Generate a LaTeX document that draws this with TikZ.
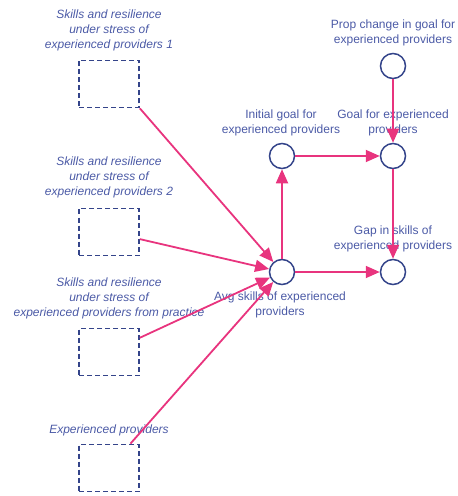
\documentclass[tikz,border=0pt]{standalone}
\usepackage{fontspec}
\setmainfont{Liberation Sans}
\usetikzlibrary{arrows.meta}
\definecolor{txtblue}{HTML}{4B5AA6}
\definecolor{lineblue}{HTML}{34448A}
\definecolor{arrpink}{HTML}{E8347E}
\tikzset{
  stock/.style={draw=lineblue, line width=1.7bp, dash pattern=on 5bp off 3bp, minimum width=60bp, minimum height=47bp, inner sep=0pt},
  aux/.style={draw=lineblue, circle, line width=1.5bp, minimum size=25bp, inner sep=0pt},
  lbl/.style={text=txtblue, align=center, font=\fontsize{12bp}{15bp}\selectfont, inner sep=0pt},
  ilbl/.style={lbl, font=\fontsize{12bp}{15bp}\selectfont\itshape},
  link/.style={draw=arrpink, line width=1.8bp, -{Triangle[length=14bp,width=12bp]}},
}
\begin{document}
\begin{tikzpicture}[x=1bp,y=-1bp]
\useasboundingbox (0,0) rectangle (458,496);
% stocks
\node[stock] (b1) at (109,84) {};
\node[stock] (b2) at (109,232) {};
\node[stock] (b3) at (109,352) {};
\node[stock] (b4) at (109,468) {};
\node[ilbl] (l1) at (109,30) {Skills and resilience\\under stress of\\experienced providers 1};
\node[ilbl] (l2) at (109,177) {Skills and resilience\\under stress of\\experienced providers 2};
\node[ilbl] (l3) at (109,298) {Skills and resilience\\under stress of\\experienced providers from practice};
\node[ilbl] (l4) at (109,430) {Experienced providers};
% auxiliaries
\node[aux] (avg) at (282,272) {};
\node[aux] (init) at (282,156) {};
\node[aux] (goal) at (393,156) {};
\node[aux] (gap) at (393,272) {};
\node[aux] (prop) at (393,66) {};
\node[lbl] (lprop) at (393,33) {Prop change in goal for\\experienced providers};
\node[lbl] (linit) at (281,122.5) {Initial goal for\\experienced providers};
\node[lbl] (lgoal) at (393,122.5) {Goal for experienced\\providers};
\node[lbl] (lgap) at (393,238.5) {Gap in skills of\\experienced providers};
\node[lbl] (lavg) at (280,305) {Avg skills of experienced\\providers};
% links
\draw[link] (b1.south east) -- (avg);
\draw[link] (b2) -- (avg);
\draw[link] (b3) -- (avg);
\draw[link] (b4) -- (avg);
\draw[link] (avg) -- (init);
\draw[link] (init) -- (goal);
\draw[link] (prop) -- (goal);
\draw[link] (goal) -- (gap);
\draw[link] (avg) -- (gap);
\end{tikzpicture}
\end{document}
